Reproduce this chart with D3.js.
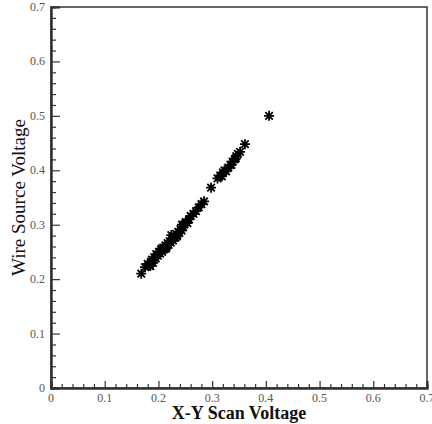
<!DOCTYPE html>
<html>
<head>
<meta charset="utf-8">
<script src="https://cdn.jsdelivr.net/npm/d3@7"></script>
<style>
  body { margin: 0; background: #fff; }
  svg { display: block; }
</style>
</head>
<body>
<svg id="chart"></svg>
<script>
// scan voltage vs wire source voltage
const scanV = [
  0.168, 0.175, 0.180, 0.183, 0.186, 0.188, 0.190, 0.192, 0.195, 0.197,
  0.199, 0.201, 0.203, 0.205, 0.207, 0.209, 0.211, 0.213, 0.215, 0.217,
  0.219, 0.221, 0.223, 0.225, 0.227, 0.229, 0.231, 0.233, 0.235, 0.237,
  0.239, 0.241, 0.243, 0.246, 0.248, 0.251, 0.254, 0.257, 0.260, 0.265,
  0.270, 0.275, 0.280, 0.285, 0.298, 0.310, 0.315, 0.320, 0.323, 0.326,
  0.330, 0.334, 0.338, 0.342, 0.345, 0.348, 0.352, 0.361, 0.406,
  0.185, 0.196, 0.206, 0.214, 0.224, 0.234, 0.244, 0.318, 0.336, 0.344
];
const wireV = [
  0.210, 0.222, 0.228, 0.225, 0.232, 0.236, 0.230, 0.240, 0.238, 0.245,
  0.243, 0.250, 0.247, 0.254, 0.250, 0.258, 0.255, 0.262, 0.259, 0.266,
  0.263, 0.270, 0.267, 0.274, 0.271, 0.279, 0.276, 0.283, 0.280, 0.287,
  0.285, 0.292, 0.289, 0.296, 0.300, 0.305, 0.303, 0.310, 0.316, 0.320,
  0.325, 0.332, 0.338, 0.343, 0.368, 0.385, 0.390, 0.396, 0.400, 0.398,
  0.405, 0.410, 0.416, 0.420, 0.426, 0.430, 0.434, 0.448, 0.500,
  0.224, 0.246, 0.256, 0.256, 0.281, 0.278, 0.300, 0.389, 0.410, 0.422
];
const majorTicks = [0, 0.1, 0.2, 0.3, 0.4, 0.5, 0.6, 0.7];
const tickLabels = ["0", "0.1", "0.2", "0.3", "0.4", "0.5", "0.6", "0.7"];

const width = 432, height = 424;
const margin = { top: 7, right: 5, bottom: 36, left: 51 };
const svg = d3.select("#chart").attr("width", width).attr("height", height);

const x = d3.scaleLinear().domain([0, 0.7]).range([margin.left, width - margin.right]);
const y = d3.scaleLinear().domain([0, 0.7]).range([height - margin.bottom, margin.top]);

const minorTicks = d3.range(0, 71, 2).map(d => d / 100).filter(d => Math.round(d * 100) % 10 !== 0);
const serif = "'Liberation Serif', 'Times New Roman', serif";
const axisColor = "#333";

// frame
svg.append("rect")
  .attr("x", x(0)).attr("y", y(0.7))
  .attr("width", x(0.7) - x(0)).attr("height", y(0) - y(0.7))
  .attr("fill", "none").attr("stroke", axisColor).attr("stroke-width", 1.5);

// ticks point inward
const gx = svg.append("g").attr("transform", `translate(0,${y(0)})`)
  .call(d3.axisTop(x).tickValues(majorTicks).tickSize(7).tickFormat(""));
const gxm = svg.append("g").attr("transform", `translate(0,${y(0)})`)
  .call(d3.axisTop(x).tickValues(minorTicks).tickSize(4).tickFormat(""));

const gy = svg.append("g").attr("transform", `translate(${x(0)},0)`)
  .call(d3.axisRight(y).tickValues(majorTicks).tickSize(9).tickFormat(""));
const gym = svg.append("g").attr("transform", `translate(${x(0)},0)`)
  .call(d3.axisRight(y).tickValues(minorTicks).tickSize(5).tickFormat(""));

[gx, gxm, gy, gym].forEach(g => {
  g.select(".domain").attr("stroke", axisColor).attr("stroke-width", 2);
  g.selectAll(".tick line").attr("stroke", axisColor).attr("stroke-width", 1.2);
});

// tick labels
svg.append("g").selectAll("text")
  .data(majorTicks)
  .join("text")
  .attr("x", d => x(d))
  .attr("y", y(0) + 14)
  .attr("text-anchor", "middle")
  .attr("font-family", serif)
  .attr("font-size", 12)
  .attr("fill", "#555")
  .text((d, i) => tickLabels[i]);

svg.append("g").selectAll("text")
  .data(majorTicks)
  .join("text")
  .attr("x", x(0) - 6)
  .attr("y", d => y(d) + 4)
  .attr("text-anchor", "end")
  .attr("font-family", serif)
  .attr("font-size", 12)
  .attr("fill", "#555")
  .text((d, i) => tickLabels[i]);

// axis titles
svg.append("text")
  .attr("x", (x(0) + x(0.7)) / 2)
  .attr("y", height - 5)
  .attr("text-anchor", "middle")
  .attr("font-family", serif)
  .attr("font-size", 18)
  .attr("font-weight", "bold")
  .attr("fill", "#111")
  .text("X-Y Scan Voltage");

svg.append("text")
  .attr("transform", `translate(25,${(y(0) + y(0.7)) / 2}) rotate(-90)`)
  .attr("text-anchor", "middle")
  .attr("font-family", serif)
  .attr("font-size", 19)
  .attr("fill", "#111")
  .text("Wire Source Voltage");

// asterisk markers (plus + cross)
const r = 5, rd = r * 0.75;
const star = `M${-r},0L${r},0M0,${-r}L0,${r}M${-rd},${-rd}L${rd},${rd}M${-rd},${rd}L${rd},${-rd}`;

svg.append("g").selectAll("path")
  .data(scanV.map((v, i) => [v, wireV[i]]))
  .join("path")
  .attr("transform", d => `translate(${x(d[0])},${y(d[1])})`)
  .attr("d", star)
  .attr("fill", "none")
  .attr("stroke", "#000")
  .attr("stroke-width", 1.8);
</script>
</body>
</html>
